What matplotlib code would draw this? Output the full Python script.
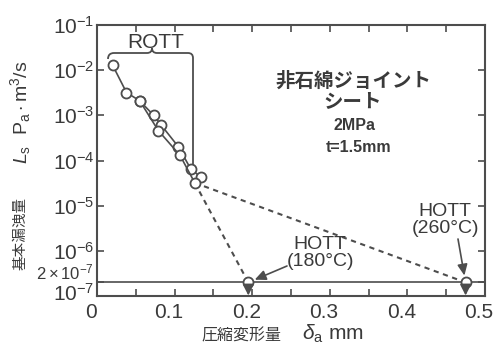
import matplotlib
matplotlib.use('Agg')
import matplotlib.pyplot as plt
from matplotlib.path import Path
from matplotlib.patches import PathPatch
from matplotlib.ticker import NullLocator, FixedLocator, MultipleLocator
from matplotlib.transforms import ScaledTranslation

plt.rcParams['font.family'] = ['Liberation Sans', 'Noto Sans CJK JP', 'DejaVu Sans']
plt.rcParams['mathtext.fontset'] = 'custom'
plt.rcParams['mathtext.rm'] = 'Liberation Sans'
plt.rcParams['mathtext.it'] = 'Liberation Sans:italic'
plt.rcParams['mathtext.bf'] = 'Liberation Sans:bold'

INK = '#4d4d4d'
TXT = '#3a3a3a'
CJK = ['Noto Sans CJK JP', 'DejaVu Sans']

# Room-temperature tightness test (ROTT): compression vs. leak rate, two runs
rott_a_x = [0.020, 0.038, 0.055, 0.073, 0.083, 0.105, 0.121, 0.134]
rott_a_y = [1.3e-2, 3.2e-3, 2.1e-3, 1.0e-3, 6.0e-4, 2.0e-4, 6.4e-5, 4.3e-5]
rott_b_x = [0.055, 0.079, 0.107, 0.126]
rott_b_y = [2.1e-3, 4.6e-4, 1.3e-4, 3.2e-5]

# Hot tightness test (HOTT) results: below detection limit
hott_x = [0.195, 0.475]
hott_y = [2e-7, 2e-7]
hott_labels = ['HOTT\n(180°C)', 'HOTT\n(260°C)']
detect_limit = 2e-7

x_ticks = [0, 0.1, 0.2, 0.3, 0.4, 0.5]
x_tick_labels = ['0', '0.1', '0.2', '0.3', '0.4', '0.5']
y_ticks = [1e-7, 2e-7, 1e-6, 1e-5, 1e-4, 1e-3, 1e-2, 1e-1]
y_tick_labels = [r'$10^{-7}$', r'$2\times10^{-7}$', r'$10^{-6}$', r'$10^{-5}$',
                 r'$10^{-4}$', r'$10^{-3}$', r'$10^{-2}$', r'$10^{-1}$']

W, H = 493, 349
L, R, T, B = 97, 485, 25, 296

fig = plt.figure(figsize=(W / 100, H / 100), dpi=100)
ax = fig.add_axes([L / W, (H - B) / H, (R - L) / W, (B - T) / H])


def axf(px, py):
    """Pixel position inside the plot frame -> axes fraction."""
    return ((px - L) / (R - L), (B - py) / (B - T))


ax.set_yscale('log')
ax.set_xlim(0, 0.5)
ax.set_ylim(1e-7, 1e-1)

# detection limit line
ax.axhline(detect_limit, color=INK, lw=1.2, zorder=1)

# dashed transitions from the last ROTT point to each HOTT result
for hx, hy in zip(hott_x, hott_y):
    ax.plot([rott_b_x[-1], hx], [rott_b_y[-1], hy], color=INK, lw=1.5,
            ls=(0, (2.5, 2.2)), zorder=2)

mk = dict(marker='o', ms=7.2, mfc='white', mec=INK, mew=1.3)
ax.plot(rott_a_x, rott_a_y, color=INK, lw=1.2, zorder=3, **mk)
ax.plot(rott_b_x, rott_b_y, color=INK, lw=1.2, zorder=3, **mk)
ax.plot(hott_x, hott_y, ls='none', zorder=4, **mk)

# downward arrows: actual leak rate lies below the limit
for hx, hy in zip(hott_x, hott_y):
    ax.annotate('', xy=(hx, 1.03e-7), xytext=(hx, hy),
                arrowprops=dict(arrowstyle='-|>,head_length=0.55,head_width=0.28',
                                color=INK, lw=1.2, shrinkA=4, shrinkB=0,
                                mutation_scale=12), zorder=5)

# HOTT labels with pointer arrows
arrow_kw = dict(arrowstyle='-|>,head_length=0.55,head_width=0.25',
                color=INK, lw=1.2, shrinkA=0, shrinkB=5, mutation_scale=12)
ax.text(*axf(320, 253), hott_labels[0], transform=ax.transAxes, ha='center',
        va='center', fontsize=14, color=TXT, linespacing=1.0)
ax.annotate('', xy=(hott_x[0], hott_y[0]), xytext=axf(287, 266),
            textcoords='axes fraction', arrowprops=arrow_kw)
ax.text(*axf(445, 220), hott_labels[1], transform=ax.transAxes, ha='center',
        va='center', fontsize=14, color=TXT, linespacing=1.0)
ax.annotate('', xy=(hott_x[1], hott_y[1]), xytext=axf(458, 239),
            textcoords='axes fraction', arrowprops=arrow_kw)

# ROTT brace
bp = [(108, 59), (108, 53), (114, 53), (147, 53), (152, 53), (152, 48),
      (152, 53), (157, 53), (188, 53), (193, 53), (193, 58), (193, 170)]
codes = [Path.MOVETO, Path.CURVE3, Path.CURVE3, Path.LINETO, Path.CURVE3,
         Path.CURVE3, Path.CURVE3, Path.CURVE3, Path.LINETO, Path.CURVE3,
         Path.CURVE3, Path.LINETO]
brace = Path([axf(*p) for p in bp], codes)
ax.add_patch(PathPatch(brace, fill=False, ec=INK, lw=1.3,
                       transform=ax.transAxes, clip_on=False))
ax.text(*axf(156, 42), 'ROTT', transform=ax.transAxes, ha='center',
        va='center', fontsize=15, color=TXT)

# specimen description
ax.text(*axf(353, 91), '非石綿ジョイント\nシート', transform=ax.transAxes,
        ha='center', va='center', fontsize=14, fontweight='bold',
        color=TXT, linespacing=1.1, family=CJK)
ax.text(*axf(354, 126), '2MPa', transform=ax.transAxes, ha='center',
        va='center', fontsize=11.5, color=TXT, fontweight='bold')
ax.text(*axf(359, 148), 't=1.5mm', transform=ax.transAxes, ha='center',
        va='center', fontsize=11.5, color=TXT, fontweight='bold')

# axes styling
for s in ax.spines.values():
    s.set_color(INK)
    s.set_linewidth(1.5)

ax.xaxis.set_major_locator(FixedLocator(x_ticks))
ax.set_xticklabels(x_tick_labels)
ax.xaxis.set_minor_locator(MultipleLocator(0.05))
ax.yaxis.set_major_locator(FixedLocator(y_ticks))
ax.set_yticklabels(y_tick_labels)
ax.yaxis.set_minor_locator(NullLocator())

ax.tick_params(axis='x', which='both', direction='in', top=True, bottom=True,
               length=5, width=1.2, color=INK, labelsize=15, labelcolor=TXT, pad=5)
ax.tick_params(axis='y', which='both', direction='in', left=True, right=True,
               length=5, width=1.2, color=INK, labelsize=15, labelcolor=TXT, pad=2)

# the two lowest y labels are nudged apart so they stay readable
lift = ScaledTranslation(0, 0.045, fig.dpi_scale_trans)
for tk in ax.yaxis.get_major_ticks():
    txt = tk.label1.get_text()
    if 'times' in txt:
        tk.label1.set_fontsize(12)
        tk.label1.set_verticalalignment('bottom')
    elif txt == y_tick_labels[0]:
        tk.label1.set_transform(tk.label1.get_transform() + lift)

# x tick labels sit slightly left of their ticks
shift = ScaledTranslation(-0.06, 0, fig.dpi_scale_trans)
for tk in ax.xaxis.get_major_ticks():
    tk.label1.set_transform(tk.label1.get_transform() + shift)

# axis titles (CJK part and math part set separately)
fig.text(281 / W, (H - 340) / H, '圧縮変形量', ha='right', va='baseline',
         fontsize=11.5, color=TXT, family=CJK)
fig.text(302 / W, (H - 340) / H, r'$\delta_{\mathrm{a}}$ mm', ha='left',
         va='baseline', fontsize=15, color=TXT)
fig.text(21 / W, (H - 233) / H, '基本漏洩量', rotation=90, ha='center',
         va='center', fontsize=10.5, color=TXT, family=CJK)
fig.text(21 / W, (H - 112) / H,
         r'$L_{\mathrm{s}}$  P$_{\mathrm{a}}\cdot$m$^{3}$/s', rotation=90,
         ha='center', va='center', fontsize=14, color=TXT)

fig.savefig('out.png', dpi=100)
